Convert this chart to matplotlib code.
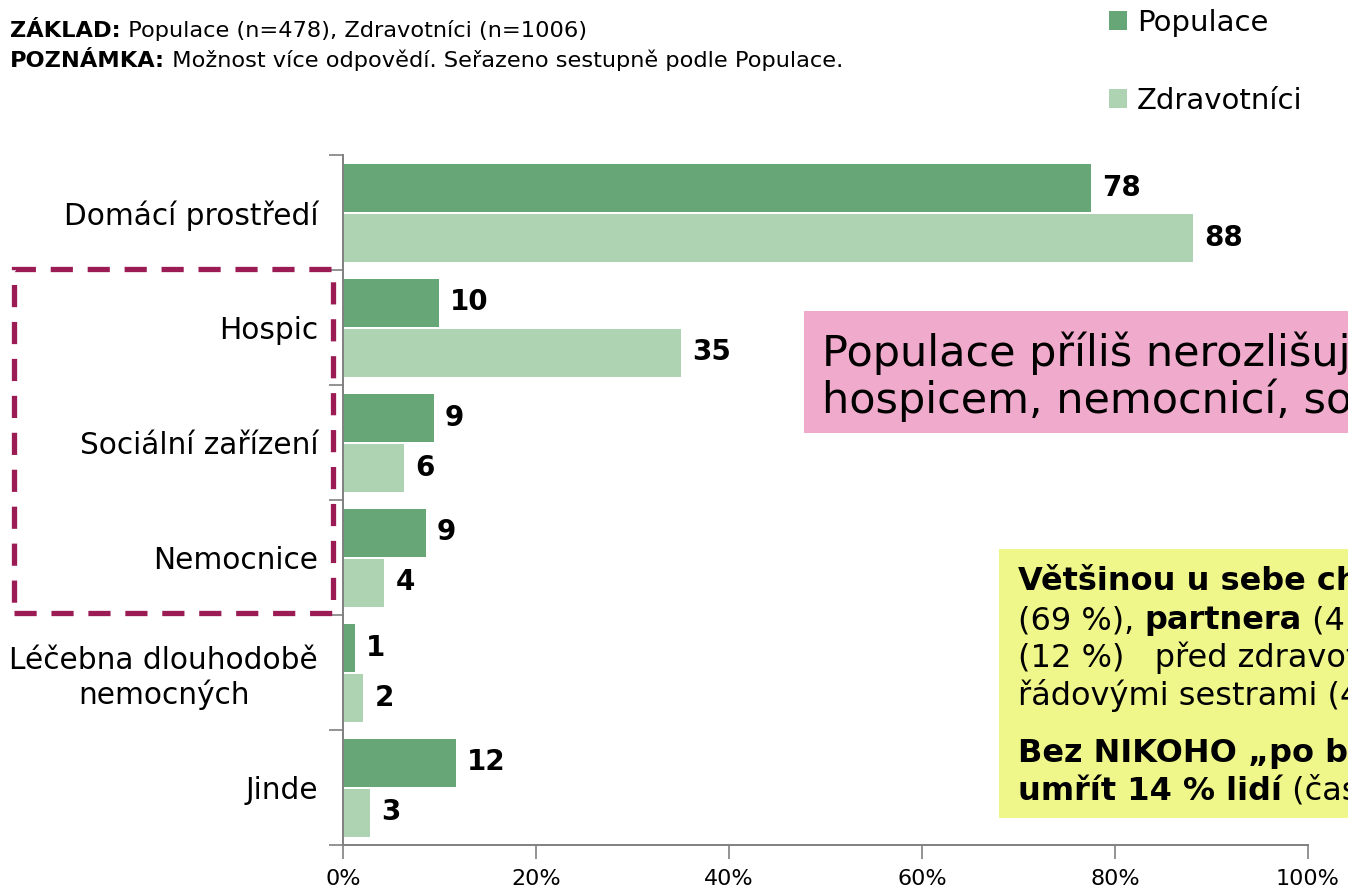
import matplotlib
matplotlib.use("Agg")
import matplotlib.pyplot as plt
from matplotlib.patches import Rectangle
import numpy as np

plt.rcParams['font.family'] = ['DejaVu Sans']

categories = ["Domácí prostředí", "Hospic", "Sociální zařízení", "Nemocnice",
              "Léčebna dlouhodobě\nnemocných", "Jinde"]
populace = [77.5, 9.9, 9.4, 8.6, 1.2, 11.7]
zdravotnici = [88.1, 35.0, 6.3, 4.3, 2.1, 2.8]
series_names = ["Populace", "Zdravotníci"]
xticks = [0, 20, 40, 60, 80, 100]
xticklabels = ["0%", "20%", "40%", "60%", "80%", "100%"]

C_POP = "#66A677"
C_ZDR = "#AED3B2"
C_PINK = "#F0AACB"
C_YEL = "#F0F78A"
C_DASH = "#9B1B55"
C_AX = "#808080"

W, H = 1348, 890
fig = plt.figure(figsize=(W / 100, H / 100), dpi=100)
ax = fig.add_axes([343 / W, 1 - 845 / H, (1308 - 343) / W, (845 - 155) / H])

y = np.arange(len(categories))
off = 25 / 115
bh = 48 / 115
b1 = ax.barh(y - off, populace, height=bh, color=C_POP, label=series_names[0])
b2 = ax.barh(y + off, zdravotnici, height=bh, color=C_ZDR, label=series_names[1])

for bars, vals in ((b1, populace), (b2, zdravotnici)):
    for r, v in zip(bars, vals):
        ax.annotate(f"{v:.0f}", (r.get_width(), r.get_y() + r.get_height() / 2),
                    xytext=(8, 0), textcoords="offset points", va="center", ha="left",
                    fontsize=20, fontweight="bold", color="black")

ax.set_xlim(0, 100)
ax.set_ylim(len(categories) - 0.5, -0.5)
ax.set_xticks(xticks)
ax.set_xticklabels(xticklabels, fontsize=16)
ax.set_yticks(y)
ax.set_yticklabels(categories, fontsize=21.3, multialignment="center")
ax.set_yticks(np.arange(len(categories) + 1) - 0.5, minor=True)
ax.tick_params(axis="y", which="major", length=0, pad=18)
ax.tick_params(axis="y", which="minor", length=10, width=1.2, color=C_AX, direction="out")
ax.tick_params(axis="x", which="major", length=10, width=1.2, color=C_AX, direction="out", pad=7)
for s in ("top", "right"):
    ax.spines[s].set_visible(False)
for s in ("left", "bottom"):
    ax.spines[s].set_color(C_AX)
    ax.spines[s].set_linewidth(1.4)

# legend
fig.legend(handles=[b1, b2], labels=series_names, loc="upper left",
           bbox_to_anchor=(1109 / W, 1 - 9 / H), frameon=False, fontsize=21,
           handlelength=0.6, handleheight=0.6, handletextpad=0.35,
           labelspacing=1.7, borderpad=0, borderaxespad=0)

renderer = fig.canvas.get_renderer()


def rich_line(x_px, y_px, parts, size):
    cur = x_px
    for txt, weight in parts:
        t = fig.text(cur / W, 1 - y_px / H, txt, fontsize=size, fontweight=weight,
                     va="baseline", ha="left", color="black")
        bb = t.get_window_extent(renderer)
        cur = bb.x1


# header
rich_line(10, 37, [("ZÁKLAD:", "bold"), (" Populace (n=478), Zdravotníci (n=1006)", "normal")], 16.2)
rich_line(10, 67, [("POZNÁMKA:", "bold"), (" Možnost více odpovědí. Seřazeno sestupně podle Populace.", "normal")], 16.2)

# dashed rectangle
fig.patches.append(Rectangle((14 / W, 1 - 613 / H), (333 - 14) / W, (613 - 269) / H,
                             transform=fig.transFigure, fill=False, edgecolor=C_DASH,
                             linewidth=3.8, linestyle=(0, (4.2, 2.8)), zorder=5))

# pink box
fig.patches.append(Rectangle((804 / W, 1 - 433 / H), (1400 - 804) / W, (433 - 311) / H,
                             transform=fig.transFigure, facecolor=C_PINK, edgecolor="none", zorder=1))
fig.text(822 / W, 1 - 366 / H, "Populace příliš nerozlišuje", fontsize=31, va="baseline", ha="left")
fig.text(822 / W, 1 - 413 / H, "hospicem, nemocnicí, sociálním", fontsize=31, va="baseline", ha="left")

# yellow box
fig.patches.append(Rectangle((999 / W, 1 - 818 / H), (1400 - 999) / W, (818 - 549) / H,
                             transform=fig.transFigure, facecolor=C_YEL, edgecolor="none", zorder=1))
ys = 23
rich_line(1018, 590, [("Většinou u sebe chtějí", "bold")], ys)
rich_line(1018, 629, [("(69 %), ", "normal"), ("partnera", "bold"), (" (4", "normal")], ys)
rich_line(1018, 667, [("(12 %)   před zdravotníky", "normal")], ys)
rich_line(1018, 705, [("řádovými sestrami (4", "normal")], ys)
rich_line(1018, 762, [("Bez NIKOHO „po boku“", "bold")], ys)
rich_line(1018, 800, [("umřít 14 % lidí", "bold"), (" (často", "normal")], ys)

fig.savefig("out.png", dpi=100)
